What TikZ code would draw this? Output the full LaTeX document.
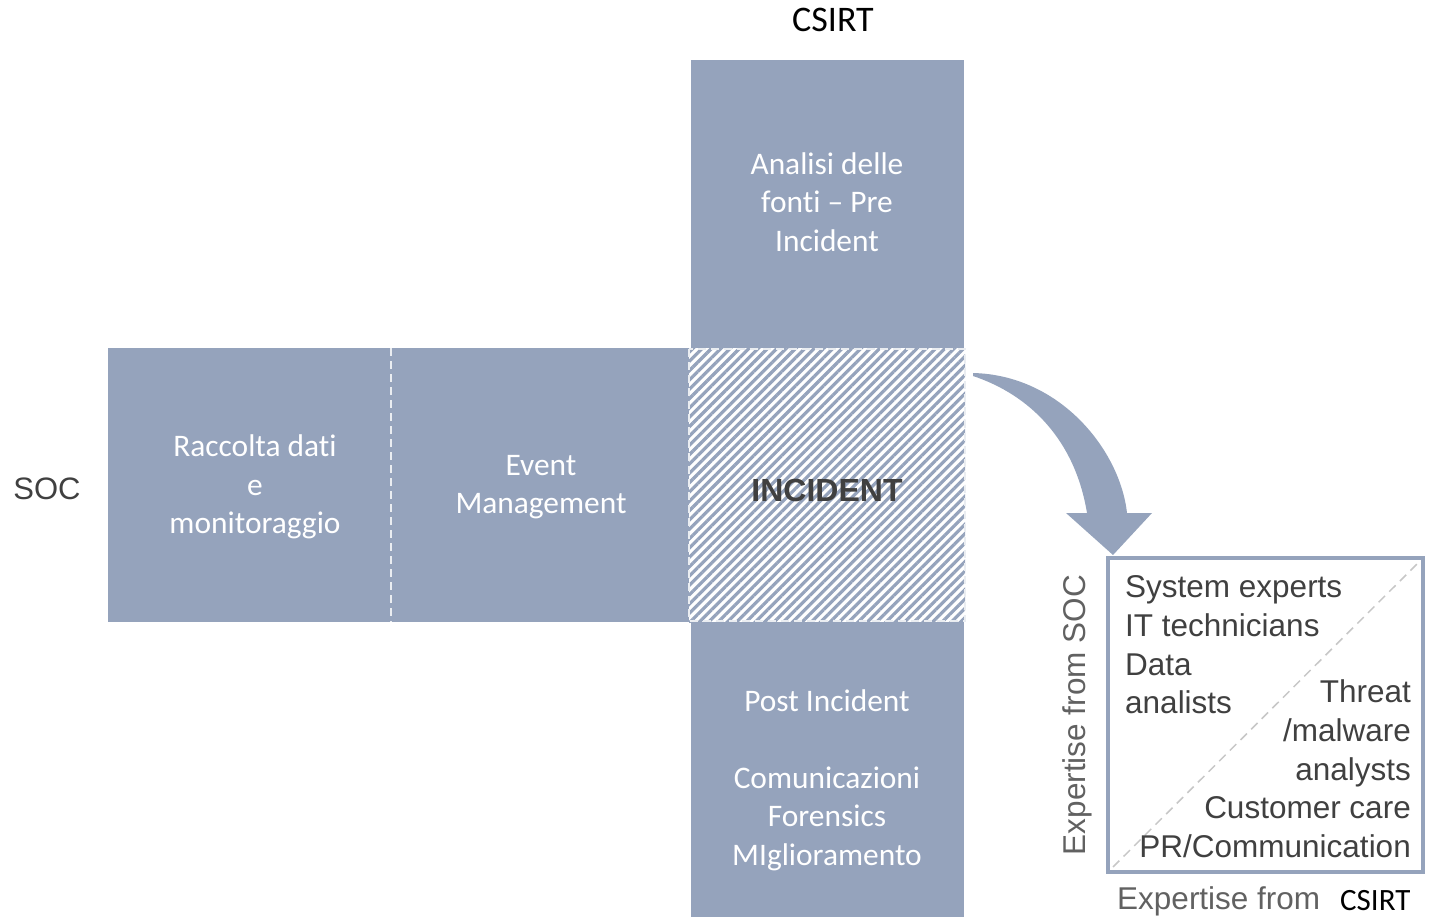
\documentclass[tikz,border=0pt]{standalone}
\usepackage{fontspec}
\setmainfont[Ligatures=NoCommon, Contextuals=NoAlternate]{Carlito}
\newfontfamily\arialfont{Liberation Sans}
\usetikzlibrary{patterns.meta}
\definecolor{panel}{HTML}{95A3BC}
\colorlet{inkdark}{black!75}
\colorlet{inkmuted}{black!62}

\begin{document}
\begin{tikzpicture}[x=1pt, y=-1pt,
  paneltext/.style={text=white, align=center, font=\fontsize{31.4}{38.5}\selectfont},
  skilltext/.style={text=inkdark, inner sep=0pt, font=\arialfont\fontsize{31.5}{38.7}\selectfont},
  sepline/.style={white!80!panel, line width=2pt, dash pattern=on 8pt off 5pt}]
\useasboundingbox (0,0) rectangle (1432,920);
% the cross of panels
\fill[panel] (691,60) rectangle (964,348);
\fill[panel] (108,348) rectangle (689,622);
\fill[panel] (691,622) rectangle (964,917);
\fill[white] (689,348) rectangle (965,622);
\fill[pattern={Lines[angle=45,distance=6.6pt,line width=3.2pt]}, pattern color=panel] (689,348) rectangle (965,622);
\draw[sepline] (689,349) rectangle (965,621);
\draw[sepline] (391,348) -- (391,622);
% bent arrow
\fill[panel] (973,373) .. controls (1060,375) and (1120,450) .. (1127,513) -- (1152,513) -- (1113,555)
  -- (1066,513) -- (1087,513) .. controls (1075,440) and (1030,395) .. (973,376) -- cycle;
% skills square
\draw[panel, line width=3.5pt] (1108,558) rectangle (1423,872);
\draw[black!22, line width=1.5pt, dash pattern=on 9pt off 6pt] (1113,867) -- (1419,562);
% labels
\node[font=\fontsize{36}{43}\selectfont] (csirt) at (833,20) {CSIRT};
\node[text=inkdark, font=\arialfont\fontsize{31}{37}\selectfont] (soc) at (47,489) {SOC};
\node[paneltext] (raccolta) at (255,487) {Raccolta dati\\e\\monitoraggio};
\node[paneltext] (event) at (541,487) {Event\\Management};
\node[paneltext] (analisi) at (827,202) {Analisi delle\\fonti – Pre\\Incident};
\node[text=inkdark, font=\arialfont\bfseries\fontsize{32}{38}\selectfont] (incident) at (827,490) {INCIDENT};
\node[paneltext] (post) at (827,780) {Post Incident\\[38.5pt]Comunicazioni\\Forensics\\MIglioramento};
\node[skilltext, anchor=west, align=left] (socskills) at (1125,645) {System experts\\IT technicians\\Data\\analists};
\node[skilltext, anchor=east, align=right] (csirtskills) at (1411,769) {Threat\\/malware\\analysts\\Customer care\\PR/Communication};
\node[text=inkmuted, rotate=90, font=\arialfont\fontsize{31.5}{38}\selectfont] (expsoc) at (1077,715) {Expertise from SOC};
\node[text=inkmuted, anchor=west, inner sep=0pt, font=\arialfont\fontsize{31.5}{38}\selectfont] (expfrom) at (1117,901) {Expertise from};
\node[anchor=west, inner sep=0pt, font=\fontsize{31}{37}\selectfont] (csirtb) at (1340,901) {CSIRT};
\end{tikzpicture}
\end{document}
